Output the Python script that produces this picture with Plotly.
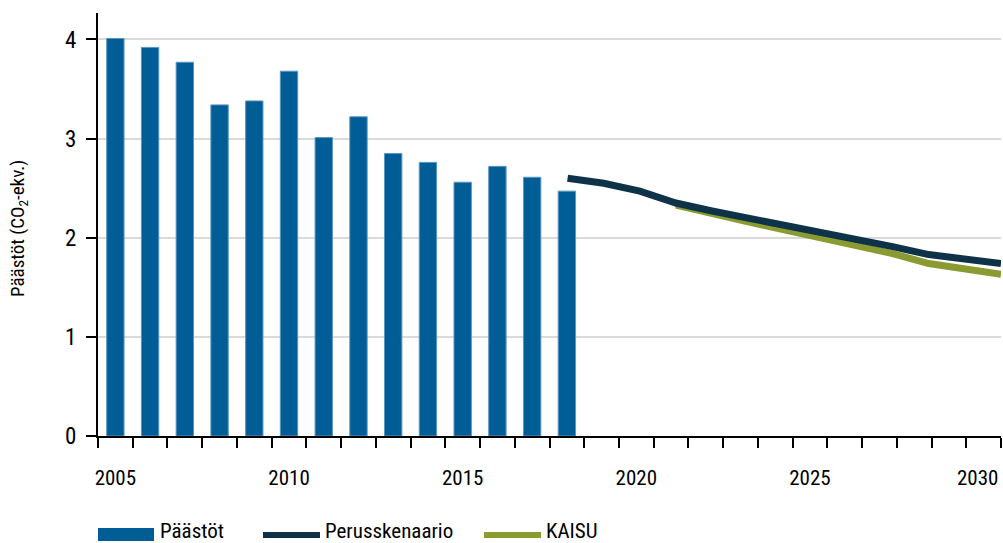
import plotly.graph_objects as go

# ---- data ----
bar_years = [2005, 2006, 2007, 2008, 2009, 2010, 2011, 2012, 2013, 2014, 2015, 2016, 2017, 2018]
paastot = [4.01, 3.92, 3.77, 3.34, 3.38, 3.68, 3.01, 3.22, 2.85, 2.76, 2.56, 2.72, 2.61, 2.47]

perus_years = [2018, 2019, 2020, 2021, 2022, 2023, 2024, 2025, 2026, 2027, 2028, 2029, 2030]
perusskenaario = [2.60, 2.55, 2.47, 2.35, 2.27, 2.20, 2.13, 2.05, 1.98, 1.91, 1.83, 1.79, 1.74]

kaisu_years = [2021, 2022, 2023, 2024, 2025, 2026, 2027, 2028, 2029, 2030]
kaisu = [2.33, 2.24, 2.16, 2.08, 2.00, 1.92, 1.84, 1.74, 1.69, 1.63]

y_ticks = [0, 1, 2, 3, 4]
x_label_years = [2005, 2010, 2015, 2020, 2025, 2030]

series_names = ["Päästöt", "Perusskenaario", "KAISU"]
colors = ["#005d96", "#0e3349", "#8a9b32"]

FONT = "Liberation Sans Narrow, Roboto Condensed, Arial Narrow, sans-serif"

fig = go.Figure()
fig.add_trace(go.Bar(
    x=bar_years, y=paastot, name=series_names[0],
    marker=dict(color=colors[0], line=dict(color="#5d95c0", width=1)),
    width=0.5, showlegend=False, xaxis="x", yaxis="y"))
fig.add_trace(go.Scatter(
    x=kaisu_years, y=kaisu, name=series_names[2], mode="lines",
    line=dict(color=colors[2], width=7), showlegend=False, xaxis="x2", yaxis="y"))
fig.add_trace(go.Scatter(
    x=perus_years, y=perusskenaario, name=series_names[1], mode="lines",
    line=dict(color=colors[1], width=7), showlegend=False, xaxis="x2", yaxis="y"))

L, R, T, B = 98, 2, 13, 107
W, H = 1003, 543
pw, ph = W - L - R, H - T - B


def px(xp):
    return (xp - L) / pw


def py(yp):
    return (H - B - yp) / ph


shapes = [
    dict(type="rect", xref="paper", yref="paper", x0=px(98), x1=px(154), y0=py(541), y1=py(528),
         fillcolor=colors[0], line=dict(width=0)),
    dict(type="line", xref="paper", yref="paper", x0=px(263), x1=px(320), y0=py(535), y1=py(535),
         line=dict(color=colors[1], width=6)),
    dict(type="line", xref="paper", yref="paper", x0=px(484), x1=px(541), y0=py(535), y1=py(535),
         line=dict(color=colors[2], width=6)),
]
legend_font = dict(size=21, color="black", family=FONT)
annotations = [
    dict(text=series_names[0], xref="paper", yref="paper", x=px(158), y=py(531), xanchor="left",
         yanchor="middle", showarrow=False, font=legend_font),
    dict(text=series_names[1], xref="paper", yref="paper", x=px(323), y=py(531), xanchor="left",
         yanchor="middle", showarrow=False, font=legend_font),
    dict(text=series_names[2], xref="paper", yref="paper", x=px(544), y=py(531), xanchor="left",
         yanchor="middle", showarrow=False, font=legend_font),
    dict(text="Päästöt (CO<sub>2</sub>-ekv.)", xref="paper", yref="paper", x=px(18), y=py(229),
         xanchor="center", yanchor="middle", textangle=-90, showarrow=False,
         font=dict(size=19, color="black", family=FONT)),
]

# label positions: last label nudged slightly left so it fits inside the page like the reference
x_tickpos = [float(v) for v in x_label_years]
x_tickpos[-1] -= 0.17
x_ticktext = [str(v) for v in x_label_years]

fig.update_layout(
    width=W, height=H,
    margin=dict(l=L, r=R, t=T, b=B, autoexpand=False),
    paper_bgcolor="white", plot_bgcolor="white",
    font=dict(family=FONT, color="black"),
    bargap=0.5,
    shapes=shapes, annotations=annotations,
    xaxis=dict(
        range=[2004.5, 2030.5], tickmode="array", tickvals=x_tickpos,
        ticktext=x_ticktext,
        ticks="outside", ticklen=10, tickcolor="rgba(0,0,0,0)",
        ticklabelstandoff=12, ticklabeloverflow="allow",
        tickfont=dict(size=21, family=FONT),
        showline=True, linecolor="black", linewidth=2,
        showgrid=False, zeroline=False, automargin=False,
        minor=dict(tickmode="linear", tick0=2004.5, dtick=1, ticks="outside", ticklen=10,
                   tickcolor="black", tickwidth=2, showgrid=False),
    ),
    xaxis2=dict(range=[2005, 2030], overlaying="x", visible=False, showgrid=False,
                zeroline=False, automargin=False),
    yaxis=dict(
        range=[0, 4.267], tickmode="array", tickvals=y_ticks,
        ticks="outside", ticklen=10, tickcolor="black", tickwidth=2,
        ticklabelstandoff=5,
        tickfont=dict(size=23, family=FONT),
        showline=True, linecolor="black", linewidth=2,
        showgrid=True, gridcolor="#dadada", gridwidth=2, zeroline=False, automargin=False,
    ),
)

fig.write_html("out.html", config={"displayModeBar": False},
               post_script="document.body.style.margin='0';document.body.style.padding='0';")
